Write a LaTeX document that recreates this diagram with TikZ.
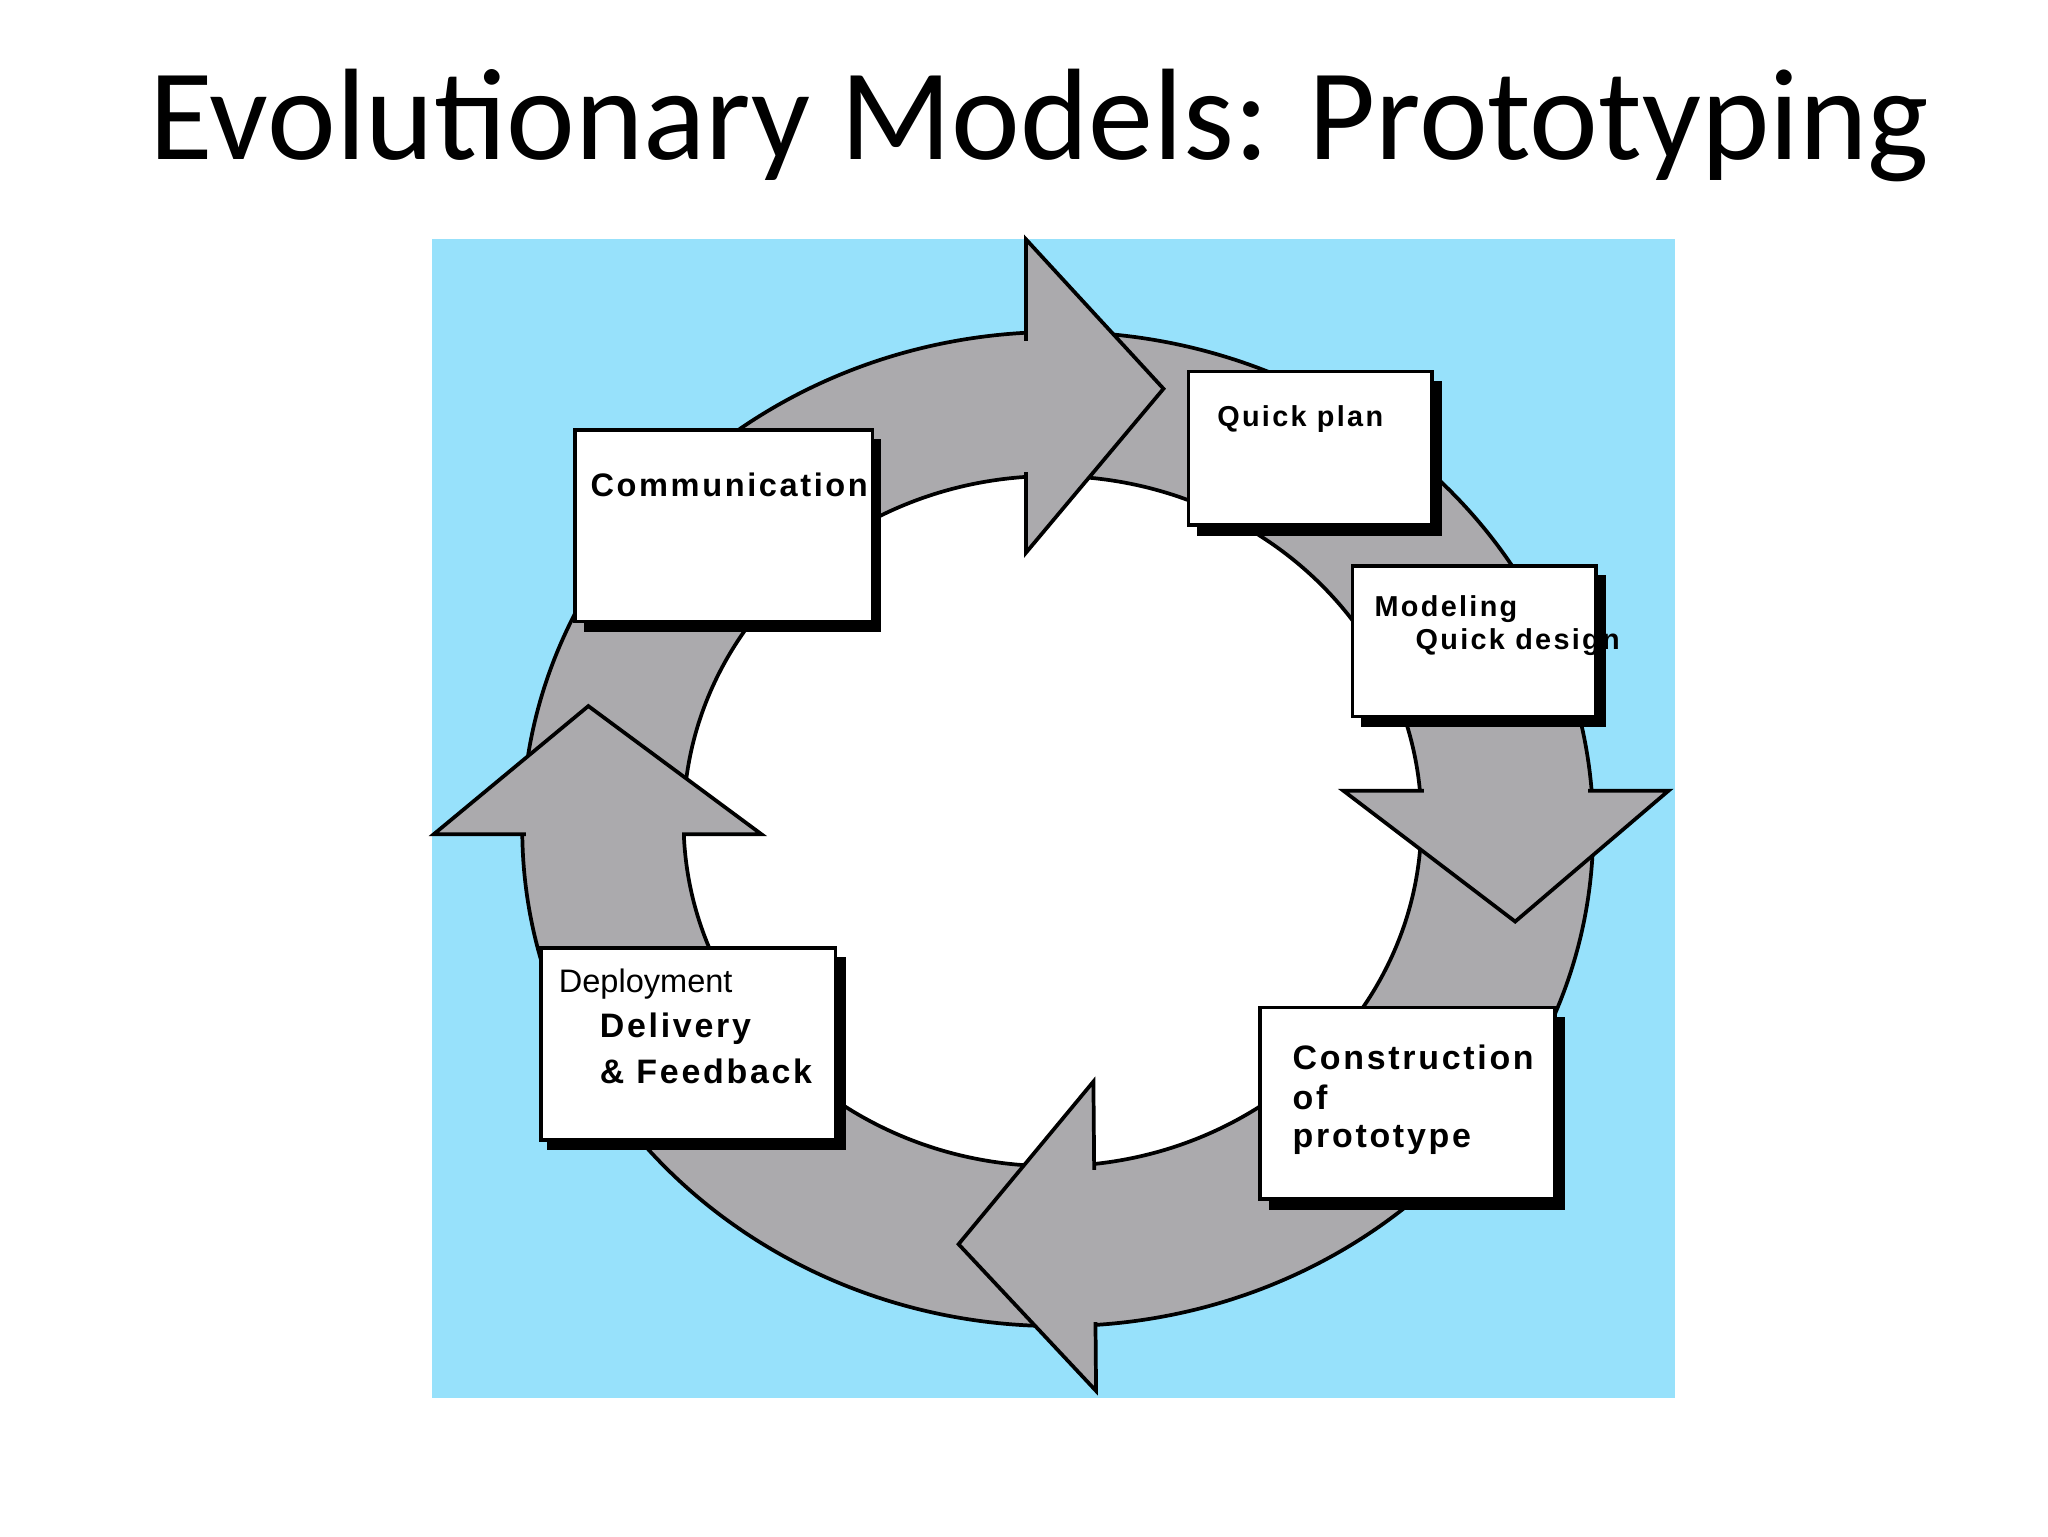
\documentclass[tikz,border=0pt]{standalone}
\usepackage{fontspec}
\setmainfont{Carlito}
\newfontfamily\boxfont[LetterSpace=8]{Liberation Sans}
\newfontfamily\plainfont{Liberation Sans}
\definecolor{sky}{HTML}{97E1FB}
\definecolor{ringgray}{HTML}{ABAAAD}
\tikzset{
 stagebox/.style={draw=black,line width=0.8pt,fill=white},
 shadowbox/.style={fill=black},
 arrowhead/.style={fill=ringgray,draw=black,line width=0.8pt,line join=miter},
 cover/.style={draw=ringgray,line width=2.2pt},
 lbl/.style={anchor=west,inner sep=0pt,font=\boxfont\bfseries\fontsize{7}{8}\selectfont}
}
\begin{document}
\begin{tikzpicture}[x=0.01cm,y=-0.01cm]
\useasboundingbox (0,0) rectangle (1549,1162);
\node (title) at (786,95) {\fontsize{28}{32}\selectfont Evolutionary Models: Prototyping};
\fill[sky] (327,181) rectangle (1267,1057);
% ring
\fill[ringgray,even odd rule] (800,627) ellipse [x radius=405,y radius=376] (796,621) ellipse [x radius=279,y radius=261];
\draw[line width=0.8pt] (800,627) ellipse [x radius=405,y radius=376];
\draw[line width=0.8pt,fill=white] (796,621) ellipse [x radius=279,y radius=261];
% arrowheads
\draw[arrowhead] (776,181) -- (880,294) -- (776,418) -- cycle;
\draw[cover] (776,258) -- (776,357);
\draw[arrowhead] (1016,598) -- (1262,598) -- (1146,697) -- cycle;
\draw[cover] (1077,598) -- (1201,598);
\draw[arrowhead] (827,818) -- (725,941) -- (829,1052) -- cycle;
\draw[cover] (828,885) -- (828,1000);
\draw[arrowhead] (328,631) -- (445,534) -- (576,631) -- cycle;
\draw[cover] (398,631) -- (516,631);
% boxes
\fill[shadowbox] (442,332) rectangle (666,478);
\draw[stagebox] (435,325) rectangle (660,470);
\node[lbl] (comm) at (446,367) {Communication};
\fill[shadowbox] (905,288) rectangle (1091,405);
\draw[stagebox] (899,281) rectangle (1083,397);
\node[lbl,font=\boxfont\bfseries\fontsize{6.2}{7}\selectfont] (plan) at (920,317) {Quick plan};
\fill[shadowbox] (1029,435) rectangle (1215,550);
\draw[stagebox] (1023,428) rectangle (1207,542);
\node[lbl,font=\boxfont\bfseries\fontsize{6.2}{7}\selectfont] (model) at (1039,461) {Modeling};
\node[lbl,font=\boxfont\bfseries\fontsize{6.2}{7}\selectfont] (qd) at (1070,486) {Quick design};
\fill[shadowbox] (960,769) rectangle (1184,915);
\draw[stagebox] (953,762) rectangle (1176,907);
\node[lbl,font=\boxfont\bfseries\fontsize{7.3}{8}\selectfont] (con1) at (977,800) {Construction};
\node[lbl,font=\boxfont\bfseries\fontsize{7.3}{8}\selectfont] (con2) at (977,830) {of};
\node[lbl,font=\boxfont\bfseries\fontsize{7.3}{8}\selectfont] (con3) at (977,862) {prototype};
\fill[shadowbox] (414,724) rectangle (640,870);
\draw[stagebox] (409,717) rectangle (632,862);
\node[lbl,font=\plainfont\fontsize{7}{8}\selectfont] (dep) at (422,744) {Deployment};
\node[lbl,font=\boxfont\bfseries\fontsize{7.3}{8}\selectfont] (del) at (453,778) {Delivery};
\node[lbl,font=\boxfont\bfseries\fontsize{7.3}{8}\selectfont] (fb) at (453,810) {\& Feedback};
\end{tikzpicture}
\end{document}
